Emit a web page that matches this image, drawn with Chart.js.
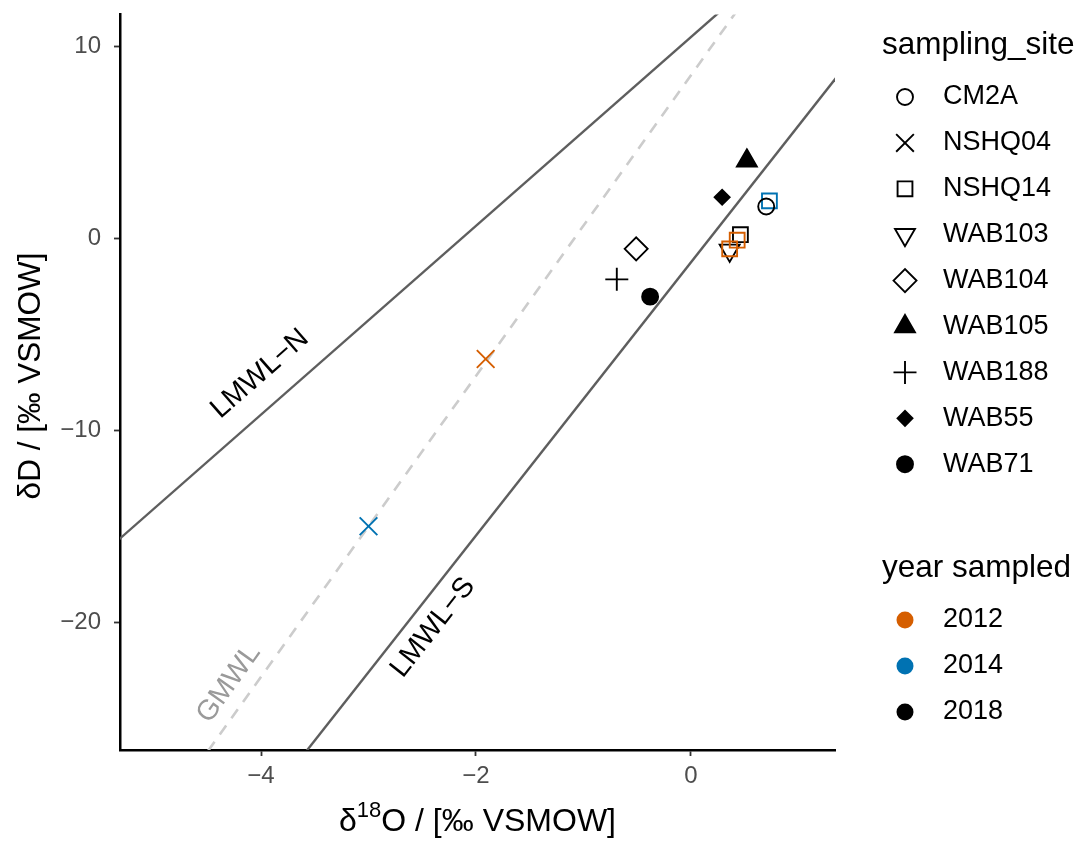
<!DOCTYPE html>
<html>
<head>
<meta charset="utf-8">
<script src="https://cdn.jsdelivr.net/npm/chart.js@4.4.1/dist/chart.umd.min.js"></script>
<style>
  html, body { margin: 0; padding: 0; background: #fff; }
  #wrap { width: 1083px; height: 842px; }
</style>
</head>
<body>
<div id="wrap"><canvas id="chart-iso" width="1083" height="842"></canvas></div>
<script>
/* ── Datos ────────────────────────────────────────────────── */
const SITES = ['CM2A', 'NSHQ04', 'NSHQ14', 'WAB103', 'WAB104', 'WAB105', 'WAB188', 'WAB55', 'WAB71'];
const YEARS = ['2012', '2014', '2018'];

const sampleSite = ['CM2A', 'NSHQ04', 'NSHQ04', 'NSHQ14', 'NSHQ14', 'NSHQ14', 'NSHQ14', 'WAB103', 'WAB104', 'WAB105', 'WAB188', 'WAB55', 'WAB71'];
const sampleYear = ['2018', '2012', '2014', '2014', '2018', '2012', '2012', '2018', '2018', '2018', '2018', '2018', '2018'];
const d18O = [0.70, -1.91, -3.00, 0.73, 0.46, 0.43, 0.36, 0.36, -0.51, 0.52, -0.69, 0.29, -0.38];
const dD   = [1.67, -6.28, -15.00, 1.96, 0.20, -0.09, -0.54, -0.62, -0.54, 4.05, -2.13, 2.15, -3.03];

// Rectas meteóricas (extremos, recortadas por el área)
const gmwlX  = [-4.6, 0.5];  const gmwlY  = [-27.55, 12.43];
const lmwlNX = [-5.5, 0.5];  const lmwlNY = [-16.56, 12.96];
const lmwlSX = [-3.8, 1.5];  const lmwlSY = [-28.30, 9.44];

const X_TICKS = [-4, -2, 0];
const Y_TICKS = [-20, -10, 0, 10];

/* ── Estilos ──────────────────────────────────────────────── */
const YEAR_COLORS = { '2012': '#D55E00', '2014': '#0072B2', '2018': '#000000' };
const SHAPES = {
    CM2A:   { style: 'circle',   r: 8,    filled: false },
    NSHQ04: { style: 'crossRot', r: 12.5, filled: false },
    NSHQ14: { style: 'rect',     r: 10.5, filled: false },
    WAB103: { style: 'triangle', r: 11.5, filled: false, rot: 180 },
    WAB104: { style: 'rectRot',  r: 11.5, filled: false },
    WAB105: { style: 'triangle', r: 11.5, filled: true },
    WAB188: { style: 'cross',    r: 11.5, filled: false },
    WAB55:  { style: 'rectRot',  r: 7.5,  filled: true },
    WAB71:  { style: 'circle',   r: 8,    filled: true }
};
const FONT = '"Liberation Sans", Arial, sans-serif';
const minus = v => v < 0 ? '\u2212' + Math.abs(v) : String(v);

/* ── Datasets ─────────────────────────────────────────────── */
const pointSets = SITES.map(site => {
    const idx = sampleSite.map((s, i) => s === site ? i : -1).filter(i => i >= 0);
    const sh = SHAPES[site];
    const cols = idx.map(i => YEAR_COLORS[sampleYear[i]]);
    return {
        label: site,
        data: idx.map(i => ({ x: d18O[i], y: dD[i] })),
        pointStyle: sh.style,
        pointRadius: sh.r,
        pointRotation: sh.rot || 0,
        pointBorderWidth: 1.9,
        pointBorderColor: cols,
        pointBackgroundColor: sh.filled ? cols : 'rgba(0,0,0,0)',
        showLine: false,
        order: 0
    };
});

const lineSet = (xs, ys, color, width, dash) => ({
    data: xs.map((x, i) => ({ x, y: ys[i] })),
    showLine: true,
    pointRadius: 0,
    borderColor: color,
    borderWidth: width,
    borderDash: dash || [],
    order: 10
});

/* ── Plugin: títulos, anotaciones y leyenda ───────────────── */
const extras = {
    id: 'extras',
    afterDatasetsDraw(chart) {
        const { ctx, scales: { x, y } } = chart;
        const ann = [
            { text: 'LMWL\u2212N', at: [-4.01, -7.06], line: [lmwlNX, lmwlNY], color: '#000' },
            { text: 'LMWL\u2212S', at: [-2.40, -20.28], line: [lmwlSX, lmwlSY], color: '#000' },
            { text: 'GMWL',        at: [-4.30, -23.20], line: [gmwlX, gmwlY],   color: '#9a9a9a' }
        ];
        ctx.save();
        ann.forEach(a => {
            const [lx, ly] = a.line;
            const ang = Math.atan2(y.getPixelForValue(ly[1]) - y.getPixelForValue(ly[0]),
                                   x.getPixelForValue(lx[1]) - x.getPixelForValue(lx[0]));
            ctx.save();
            ctx.translate(x.getPixelForValue(a.at[0]), y.getPixelForValue(a.at[1]));
            ctx.rotate(ang);
            ctx.font = '28.5px ' + FONT;
            ctx.fillStyle = a.color;
            ctx.textAlign = 'center';
            ctx.textBaseline = 'middle';
            ctx.fillText(a.text, 0, 0);
            ctx.restore();
        });
        ctx.restore();
    },
    afterDraw(chart) {
        const { ctx, chartArea } = chart;
        ctx.save();
        ctx.fillStyle = '#000';
        ctx.textBaseline = 'middle';

        // Título eje X con superíndice
        const big = '32px ' + FONT, small = '22px ' + FONT;
        ctx.font = big;  const w1 = ctx.measureText('\u03B4').width;
        ctx.font = small; const w2 = ctx.measureText('18').width;
        ctx.font = big;  const w3 = ctx.measureText('O / [\u2030 VSMOW]').width;
        let sx = (chartArea.left + chartArea.right) / 2 - (w1 + w2 + w3) / 2;
        const ty = 822;
        ctx.textAlign = 'left';
        ctx.font = big; ctx.fillText('\u03B4', sx, ty); sx += w1;
        ctx.font = small; ctx.fillText('18', sx, ty - 11); sx += w2;
        ctx.font = big; ctx.fillText('O / [\u2030 VSMOW]', sx, ty);

        // Título eje Y
        ctx.save();
        ctx.translate(31, 376);
        ctx.rotate(-Math.PI / 2);
        ctx.textAlign = 'center';
        ctx.font = '31.5px ' + FONT;
        ctx.fillText('\u03B4D / [\u2030 VSMOW]', 0, 0);
        ctx.restore();

        // Leyenda: sampling_site
        ctx.textAlign = 'left';
        ctx.font = '31.5px ' + FONT;
        ctx.fillText('sampling_site', 882, 45);
        ctx.font = '27px ' + FONT;
        SITES.forEach((s, i) => {
            const ly = 97 + i * 45.9;
            const sh = SHAPES[s];
            ctx.strokeStyle = '#000';
            ctx.lineWidth = 1.9;
            ctx.fillStyle = sh.filled ? '#000' : 'rgba(0,0,0,0)';
            Chart.helpers.drawPoint(ctx, { pointStyle: sh.style, radius: sh.r, rotation: sh.rot || 0, borderWidth: 1.9 }, 905, ly);
            ctx.fillStyle = '#000';
            ctx.fillText(s, 943, ly);
        });

        // Leyenda: year sampled
        ctx.font = '31.5px ' + FONT;
        ctx.fillText('year sampled', 882, 568);
        ctx.font = '27px ' + FONT;
        YEARS.forEach((yr, i) => {
            const ly = 620 + i * 46;
            ctx.fillStyle = YEAR_COLORS[yr];
            ctx.beginPath();
            ctx.arc(905, ly, 8.5, 0, Math.PI * 2);
            ctx.fill();
            ctx.fillStyle = '#000';
            ctx.fillText(yr, 943, ly);
        });
        ctx.restore();
    }
};

/* ── Gráfico ──────────────────────────────────────────────── */
new Chart(document.getElementById('chart-iso'), {
    type: 'scatter',
    data: {
        datasets: [
            ...pointSets,
            lineSet(lmwlNX, lmwlNY, '#5e5e5e', 2.4),
            lineSet(lmwlSX, lmwlSY, '#5e5e5e', 2.4),
            lineSet(gmwlX, gmwlY, '#cccccc', 2.6, [11, 9])
        ]
    },
    options: {
        responsive: false,
        animation: false,
        events: [],
        layout: { padding: { left: 0, right: 248, top: 10, bottom: 0 } },
        plugins: { legend: { display: false }, tooltip: { enabled: false } },
        scales: {
            x: {
                type: 'linear',
                min: -5.312, max: 1.340,
                afterBuildTicks: s => { s.ticks = X_TICKS.map(v => ({ value: v })); },
                afterFit: s => { s.height = 92; s.paddingLeft = 0; s.paddingRight = 0; },
                border: { display: true, color: '#000', width: 2.5 },
                grid: { drawOnChartArea: false, drawTicks: true, tickLength: 6, tickColor: '#333', tickWidth: 1.8 },
                ticks: { color: '#4d4d4d', font: { family: FONT, size: 24 }, padding: 6, callback: minus }
            },
            y: {
                type: 'linear',
                min: -26.66, max: 11.68,
                afterBuildTicks: s => { s.ticks = Y_TICKS.map(v => ({ value: v })); },
                afterFit: s => { s.width = 120; s.paddingTop = 0; s.paddingBottom = 0; },
                border: { display: true, color: '#000', width: 2.5 },
                grid: { drawOnChartArea: false, drawTicks: true, tickLength: 6, tickColor: '#333', tickWidth: 1.8 },
                ticks: { color: '#4d4d4d', font: { family: FONT, size: 24 }, padding: 13, callback: minus }
            }
        }
    },
    plugins: [extras]
});
</script>
</body>
</html>
